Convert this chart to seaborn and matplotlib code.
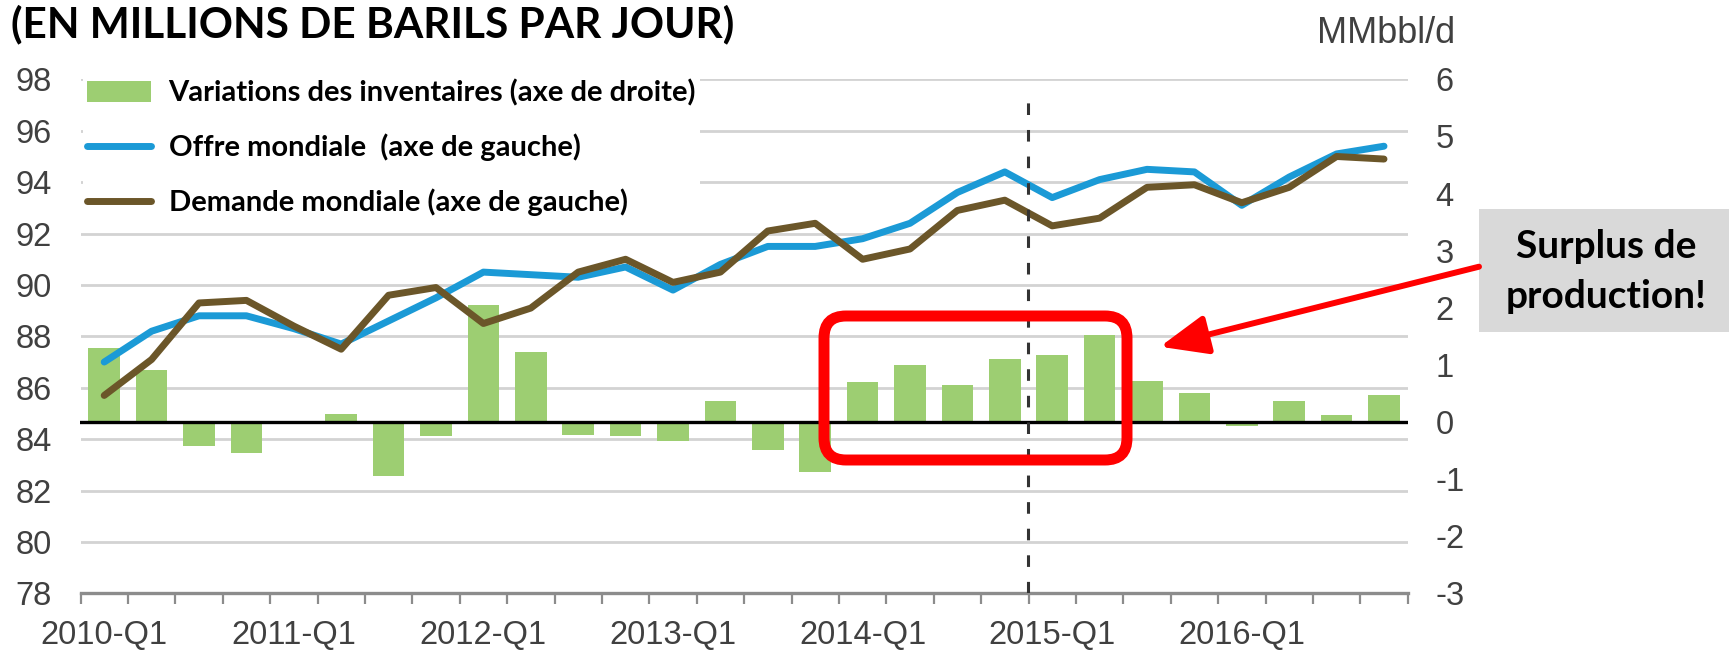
import numpy as np
import pandas as pd
import matplotlib
matplotlib.use("Agg")
import matplotlib.pyplot as plt
import seaborn as sns
from matplotlib.patches import FancyBboxPatch, FancyArrowPatch, Rectangle
from matplotlib.transforms import Affine2D
from matplotlib.font_manager import FontProperties

# ---------------- data ----------------
quarters = ["2010-Q1", "2010-Q2", "2010-Q3", "2010-Q4",
            "2011-Q1", "2011-Q2", "2011-Q3", "2011-Q4",
            "2012-Q1", "2012-Q2", "2012-Q3", "2012-Q4",
            "2013-Q1", "2013-Q2", "2013-Q3", "2013-Q4",
            "2014-Q1", "2014-Q2", "2014-Q3", "2014-Q4",
            "2015-Q1", "2015-Q2", "2015-Q3", "2015-Q4",
            "2016-Q1", "2016-Q2", "2016-Q3", "2016-Q4"]
inventory_change = [1.29, 0.91, -0.42, -0.55, 0.00, 0.14, -0.95, -0.25,
                    2.05, 1.23, -0.23, -0.25, -0.34, 0.37, -0.49, -0.87,
                    0.70, 1.00, 0.64, 1.11, 1.17, 1.52, 0.71, 0.51,
                    -0.07, 0.37, 0.13, 0.48]
world_supply = [87.0, 88.2, 88.8, 88.8, 88.3, 87.7, 88.6, 89.5,
                90.5, 90.4, 90.3, 90.7, 89.8, 90.8, 91.5, 91.5,
                91.8, 92.4, 93.6, 94.4, 93.4, 94.1, 94.5, 94.4,
                93.1, 94.2, 95.1, 95.4]
world_demand = [85.7, 87.1, 89.3, 89.4, 88.4, 87.5, 89.6, 89.9,
                88.5, 89.1, 90.5, 91.0, 90.1, 90.5, 92.1, 92.4,
                91.0, 91.4, 92.9, 93.3, 92.3, 92.6, 93.8, 93.9,
                93.2, 93.8, 95.0, 94.9]
left_ticks = [78, 80, 82, 84, 86, 88, 90, 92, 94, 96, 98]
right_ticks = [-3, -2, -1, 0, 1, 2, 3, 4, 5, 6]
xtick_labels = ["2010-Q1", "2011-Q1", "2012-Q1", "2013-Q1",
                "2014-Q1", "2015-Q1", "2016-Q1"]
label_bars = "Variations des inventaires (axe de droite)"
label_supply = "Offre mondiale  (axe de gauche)"
label_demand = "Demande mondiale (axe de gauche)"
title = "(EN MILLIONS DE BARILS PAR JOUR)"
unit_label = "MMbbl/d"
callout = ["Surplus de", "production!"]

df = pd.DataFrame({"quarter": quarters,
                   "pos": np.arange(len(quarters)),
                   "stock": inventory_change,
                   "offre": world_supply,
                   "demande": world_demand})

# ---------------- style ----------------
GREEN = "#9DCE72"
BLUE = "#1B9AD6"
BROWN = "#6B5629"
GRID = "#D3D3D3"
TXT = "#404040"
TICK_FS = 23.5

plt.rcParams["axes.unicode_minus"] = False
plt.rcParams["font.family"] = ["Liberation Sans", "DejaVu Sans"]
bold = dict(family=["Lato", "DejaVu Sans"], weight="bold")

W, H = 1729, 651
fig = plt.figure(figsize=(W / 100, H / 100), dpi=100)
pix = Affine2D().scale(1 / W, 1 / H) + fig.transFigure

L, R, T, B = 80.5, 1407.7, 79.4, 593.3
ax_grid = fig.add_axes([L / W, 1 - B / H, (R - L) / W, (B - T) / H])
ax_bars = ax_grid.twinx()
ax_lines = ax_grid.twinx()
ax_grid.set_zorder(0)
ax_bars.set_zorder(1)
ax_lines.set_zorder(2)
ax_bars.patch.set_visible(False)
ax_lines.patch.set_visible(False)

# bars (right axis)
sns.barplot(data=df, x="pos", y="stock", native_scale=True, orient="x",
            color=GREEN, saturation=1, width=0.67, edgecolor="none",
            linewidth=0, ax=ax_bars, label=label_bars, zorder=1)
ax_bars.axhline(0, color="black", lw=2.4, zorder=3)

# lines (left axis)
sns.lineplot(data=df, x="pos", y="offre", color=BLUE, lw=5, ax=ax_lines,
             label=label_supply, solid_capstyle="round")
sns.lineplot(data=df, x="pos", y="demande", color=BROWN, lw=5, ax=ax_lines,
             label=label_demand, solid_capstyle="round")
vl = ax_lines.axvline(19.5, ymin=0, ymax=0.983, color="#333333", lw=2.2)
vl.set_dashes((3.8, 4.9))

for a in (ax_grid, ax_bars, ax_lines):
    a.set_xlabel("")
    a.set_ylabel("")
    for s in a.spines.values():
        s.set_visible(False)
    leg = a.get_legend()
    if leg is not None:
        leg.remove()

ax_grid.set_xlim(-0.5, len(quarters) - 0.5)
ax_grid.set_ylim(left_ticks[0], left_ticks[-1])
ax_lines.set_ylim(left_ticks[0], left_ticks[-1])
ax_bars.set_ylim(right_ticks[0], right_ticks[-1])

# x axis
ax_grid.spines["bottom"].set_visible(True)
ax_grid.spines["bottom"].set_color("#8C8C8C")
ax_grid.spines["bottom"].set_linewidth(2.4)
ax_grid.set_xticks(np.arange(-0.5, len(quarters), 1))
ax_grid.set_xticklabels([])
ax_grid.set_xticks(np.arange(0, len(quarters), 4), minor=True)
ax_grid.set_xticklabels(xtick_labels, minor=True)
ax_grid.tick_params(axis="x", which="major", length=8, width=1.6,
                    color="#8C8C8C", direction="out")
ax_grid.tick_params(axis="x", which="minor", length=0, pad=19.5,
                    labelsize=TICK_FS, labelcolor=TXT)

# left y axis + grid
ax_grid.set_yticks(left_ticks)
ax_grid.set_yticklabels([str(v) for v in left_ticks])
ax_grid.tick_params(axis="y", length=0, pad=20.5, labelsize=TICK_FS,
                    labelcolor=TXT)
ax_grid.yaxis.grid(True, color=GRID, lw=2.0)
ax_grid.xaxis.grid(False)

# right y axis
ax_bars.set_yticks(right_ticks)
ax_bars.set_yticklabels([str(v) for v in right_ticks])
ax_bars.tick_params(axis="y", length=0, pad=20, labelsize=TICK_FS,
                    labelcolor=TXT)
ax_bars.grid(False)
ax_lines.grid(False)
ax_lines.yaxis.set_visible(False)

# legend
h1, l1 = ax_bars.get_legend_handles_labels()
h2, l2 = ax_lines.get_legend_handles_labels()
ax_lines.legend(h1 + h2, l1 + l2, loc="upper left",
                bbox_to_anchor=(82.5 / W, 1 - 75 / H),
                bbox_transform=fig.transFigure,
                frameon=True, facecolor="white", edgecolor="none",
                framealpha=1, fancybox=False, borderpad=0.15,
                borderaxespad=0, handlelength=2.2, handleheight=0.7,
                handletextpad=0.6, labelspacing=0.93,
                prop=FontProperties(family="Lato", weight="bold", size=21))

# texts
fig.text(11 / W, 1 - 37 / H, title, ha="left", va="baseline",
         fontsize=30.5, color="black", **bold)
fig.text(1455 / W, 1 - 43 / H, unit_label, ha="right", va="baseline",
         fontsize=26, color=TXT)

# callout box
fig.add_artist(Rectangle((1479, H - 331.7), W - 1479, 331.7 - 209.3,
                         transform=pix, facecolor="#D9D9D9",
                         edgecolor="none", zorder=5))
fig.text(1606 / W, 1 - 258 / H, callout[0], ha="center", va="baseline",
         fontsize=28, color="black", zorder=7, **bold)
fig.text(1606 / W, 1 - 308 / H, callout[1], ha="center", va="baseline",
         fontsize=28, color="black", zorder=7, **bold)

# red rounded rectangle
fig.add_artist(FancyBboxPatch((824, H - 460), 303, 144,
                              boxstyle="round,pad=0,rounding_size=22",
                              transform=pix, linewidth=7.9,
                              edgecolor="#FF0000", facecolor="none",
                              zorder=6))
# red arrow
fig.add_artist(FancyArrowPatch(posA=(1479, H - 266.7), posB=(1160, H - 346.7),
                               transform=pix,
                               arrowstyle="-|>,head_length=2.9,head_width=1.2",
                               mutation_scale=10, linewidth=4.3,
                               color="#FF0000", shrinkA=0, shrinkB=0,
                               zorder=6))

fig.savefig("out.png", dpi=100)
